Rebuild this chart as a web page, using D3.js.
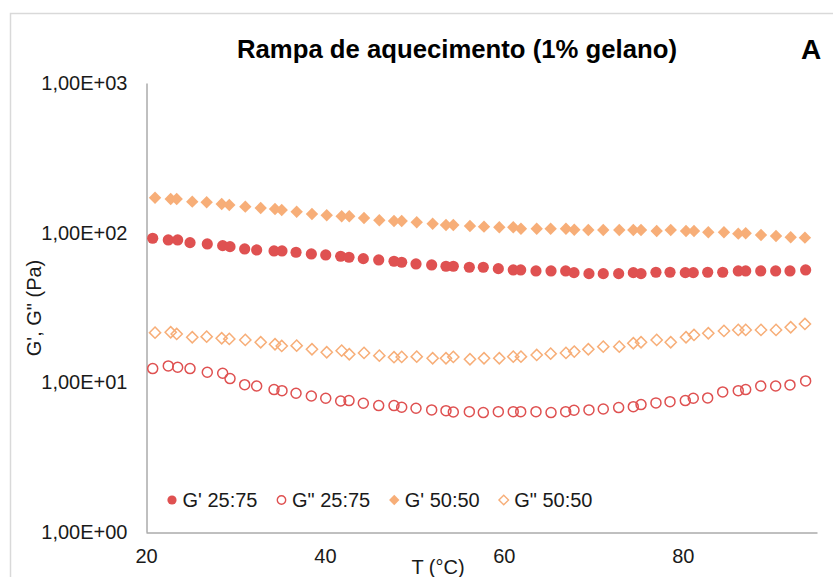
<!DOCTYPE html>
<html><head><meta charset="utf-8">
<script src="https://cdn.jsdelivr.net/npm/d3@7"></script>
<style>html,body{margin:0;padding:0;background:#fff;}svg{display:block;font-family:"Liberation Sans",Arial,sans-serif;}</style>
</head><body>
<svg id="chart" width="833" height="577"></svg>
<script>
// ---- data ----
const temp2575 = [20.75,22.49,23.54,24.92,26.85,28.57,29.39,31.03,32.37,34.31,35.20,36.77,38.48,40.09,41.76,42.69,44.29,46.01,47.72,48.58,50.18,51.93,53.53,54.35,56.14,57.70,59.38,61.05,61.88,63.59,65.27,66.91,67.84,69.51,71.11,72.83,74.47,75.33,77.00,78.57,80.28,81.17,82.78,84.46,86.20,87.03,88.71,90.38,91.98,93.73];
const temp5050 = [21.01,22.76,23.43,25.17,26.78,28.46,29.31,31.10,32.82,34.42,35.17,36.84,38.55,40.20,41.87,42.72,44.37,46.08,47.72,48.58,50.26,52.04,53.53,54.35,56.21,57.78,59.49,61.05,61.91,63.67,65.23,66.94,67.87,69.44,71.11,72.90,74.47,75.33,77.08,78.65,80.36,81.25,82.85,84.60,86.20,87.03,88.74,90.42,92.06,93.65];
const gp2575 = [91.75,89.39,89.39,85.76,84.06,81.89,80.64,77.83,76.64,75.47,75.47,73.96,72.06,70.96,69.56,68.51,67.04,65.71,64.41,63.43,61.80,60.85,59.66,59.66,58.75,58.75,57.49,56.35,56.35,55.50,55.50,55.50,54.06,53.23,53.23,53.23,54.06,53.23,54.39,54.39,54.06,54.06,54.39,54.39,55.50,55.50,55.50,55.50,55.50,56.35];
const gpp2575 = [12.35,12.87,12.62,12.35,11.68,11.50,10.59,9.65,9.46,8.94,8.80,8.46,8.11,7.83,7.51,7.55,7.25,6.99,6.99,6.82,6.71,6.54,6.47,6.34,6.37,6.28,6.37,6.37,6.37,6.37,6.28,6.37,6.51,6.54,6.64,6.78,6.88,7.10,7.29,7.43,7.55,7.83,7.87,8.63,8.80,8.94,9.46,9.46,9.61,10.22];
const gp5050 = [171.3,168.0,168.0,161.1,159.6,155.5,153.1,149.2,146.2,144.0,141.8,138.1,133.3,130.7,128.7,128.7,125.4,121.0,119.7,119.7,117.3,114.8,112.6,112.6,110.9,109.7,108.7,108.7,106.3,106.3,106.3,106.3,104.7,104.2,104.2,104.2,104.2,104.2,102.7,104.2,102.7,102.7,100.6,100.6,98.5,99.1,96.5,95.0,93.2,92.6];
const gpp5050 = [21.48,21.61,21.05,20.01,20.20,19.71,19.50,19.20,18.53,17.97,17.50,17.59,16.64,15.89,16.28,15.41,15.72,15.08,14.72,14.78,14.85,14.49,14.49,14.78,14.27,14.49,14.49,14.85,14.85,15.24,15.55,15.72,16.04,16.64,17.32,17.32,18.25,18.53,19.20,18.53,20.01,20.73,21.28,22.05,22.39,22.39,22.39,22.39,23.34,24.55];
const seriesNames = ["G' 25:75", "G\" 25:75", "G' 50:50", "G\" 50:50"];
const xTicks = [20, 40, 60, 80];
const yTicks = [1, 10, 100, 1000];
const yTickLabels = ["1,00E+00", "1,00E+01", "1,00E+02", "1,00E+03"];
const titleText = "Rampa de aquecimento (1% gelano)";
const panelLetter = "A";
const xTitle = "T (°C)";
const yTitle = "G', G\" (Pa)";

// ---- setup ----
const red = "#DF5151", orange = "#F7AE78";
const series = [
  {name: seriesNames[0], xs: temp2575, ys: gp2575, shape: "circle", fill: true, color: red},
  {name: seriesNames[1], xs: temp2575, ys: gpp2575, shape: "circle", fill: false, color: red},
  {name: seriesNames[2], xs: temp5050, ys: gp5050, shape: "diamond", fill: true, color: orange},
  {name: seriesNames[3], xs: temp5050, ys: gpp5050, shape: "diamond", fill: false, color: orange}
];

const svg = d3.select("#chart");
const x = d3.scaleLinear().domain([20, 95]).range([146, 817]);
const y = d3.scaleLog().domain([1, 1000]).range([532, 83]);

// chart border
svg.append("rect").attr("x", 10.5).attr("y", 13.5).attr("width", 900).attr("height", 700)
  .attr("fill", "#fff").attr("stroke", "#d9d9d9").attr("stroke-width", 1.5);

// title
svg.append("text").attr("x", 457).attr("y", 58).attr("text-anchor", "middle")
  .attr("font-size", 25.5).attr("font-weight", "bold").attr("fill", "#000")
  .attr("textLength", 440).attr("lengthAdjust", "spacingAndGlyphs").text(titleText);
svg.append("text").attr("x", 811).attr("y", 59).attr("text-anchor", "middle")
  .attr("font-size", 28).attr("font-weight", "bold").attr("fill", "#000").text(panelLetter);

// axes
const yAxis = d3.axisLeft(y).tickValues(yTicks).tickSize(0).tickPadding(19)
  .tickFormat((d, i) => yTickLabels[i]);
const gy = svg.append("g").attr("transform", "translate(146.5,0)").call(yAxis);
gy.select(".domain").attr("stroke", "#808080").attr("stroke-width", 1);
gy.selectAll("text").attr("font-size", 20).attr("fill", "#1a1a1a").attr("font-family", "Liberation Sans, Arial, sans-serif");

const xAxis = d3.axisBottom(x).tickValues(xTicks).tickSize(0).tickPadding(16)
  .tickFormat(d3.format("d"));
const gx = svg.append("g").attr("transform", "translate(0,532.5)").call(xAxis);
gx.select(".domain").attr("stroke", "#808080").attr("stroke-width", 1);
gx.selectAll("text").attr("font-size", 20).attr("fill", "#1a1a1a").attr("font-family", "Liberation Sans, Arial, sans-serif");

// axis titles
svg.append("text").attr("transform", "translate(41,308) rotate(-90)").attr("text-anchor", "middle")
  .attr("font-size", 20).attr("fill", "#1a1a1a").text(yTitle);
svg.append("text").attr("x", 438).attr("y", 574).attr("text-anchor", "middle")
  .attr("font-size", 20).attr("fill", "#1a1a1a").text(xTitle);

// markers
function markerPath(shape, r) {
  if (shape === "circle") return `M${r},0A${r},${r},0,1,1,${-r},0A${r},${r},0,1,1,${r},0Z`;
  return `M0,${-r}L${r},0L0,${r}L${-r},0Z`;
}
series.forEach(s => {
  const r = s.shape === "circle" ? (s.fill ? 5.6 : 5.0) : (s.fill ? 6.2 : 5.6);
  svg.append("g").selectAll("path").data(s.ys.map((v, i) => [s.xs[i], v])).join("path")
    .attr("transform", d => `translate(${x(d[0])},${y(d[1])})`)
    .attr("d", markerPath(s.shape, r))
    .attr("fill", s.fill ? s.color : "none")
    .attr("stroke", s.fill ? "none" : s.color)
    .attr("stroke-width", s.fill ? 0 : 1.5);
});

// legend
const lg = svg.append("g");
let lx = 172;
const ly = 500;
series.forEach(s => {
  const r = s.shape === "circle" ? (s.fill ? 4.6 : 4.2) : (s.fill ? 5.2 : 4.8);
  lg.append("path").attr("transform", `translate(${lx},${ly})`).attr("d", markerPath(s.shape, r))
    .attr("fill", s.fill ? s.color : "none").attr("stroke", s.fill ? "none" : s.color).attr("stroke-width", s.fill ? 0 : 1.4);
  const t = lg.append("text").attr("x", lx + 10.5).attr("y", ly).attr("dy", "0.35em")
    .attr("font-size", 20).attr("fill", "#1a1a1a").text(s.name);
  lx = lx + 10.5 + t.node().getComputedTextLength() + 24;
});
</script>
</body></html>
